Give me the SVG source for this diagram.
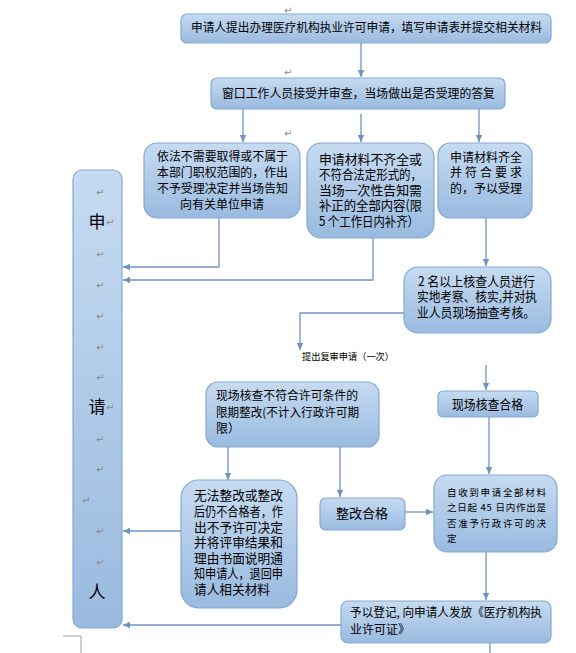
<svg xmlns="http://www.w3.org/2000/svg" width="576" height="653" viewBox="0 0 576 653">
<defs>
<linearGradient id="g" x1="0" y1="0" x2="0" y2="1">
<stop offset="0" stop-color="#c6dbf1"/>
<stop offset="1" stop-color="#99badf"/>
</linearGradient>
<marker id="ah" markerUnits="userSpaceOnUse" markerWidth="8" markerHeight="8" refX="7" refY="4" orient="auto">
<path d="M0,0.8 L7,4 L0,7.2 Z" fill="#6f93c0"/>
</marker>
<style>
.box{fill:url(#g);stroke:#84a9d3;stroke-width:1.2}
.t{font-family:"Noto Sans CJK SC","Noto Sans CJK JP",sans-serif;font-size:12px;fill:#000}
.t13{font-size:13px}
.big{font-size:17px}
.sm{font-size:9.5px}
.pm{font-family:"DejaVu Sans",sans-serif;font-size:10px;fill:#8a8a8a}
.c{fill:none;stroke:#6f93c0;stroke-width:1.3}
</style>
</defs>
<rect width="576" height="653" fill="#fff"/>

<g id="connectors">
<path class="c" d="M361,43 V77" marker-end="url(#ah)"/>
<path class="c" d="M243,109 V142" marker-end="url(#ah)"/>
<path class="c" d="M361,114 V142" marker-end="url(#ah)"/>
<path class="c" d="M479,109 V142" marker-end="url(#ah)"/>
<path class="c" d="M219,218 V267 H123" marker-end="url(#ah)"/>
<path class="c" d="M373,238 V280 H123" marker-end="url(#ah)"/>
<path class="c" d="M486,218 V266" marker-end="url(#ah)"/>
<path class="c" d="M404,313 H300 V350" marker-end="url(#ah)"/>
<path class="c" d="M486,365 V390" marker-end="url(#ah)"/>
<path class="c" d="M228,447 V480" marker-end="url(#ah)"/>
<path class="c" d="M340,447 V497" marker-end="url(#ah)"/>
<path class="c" d="M405,512 H433" marker-end="url(#ah)"/>
<path class="c" d="M489,417 V474" marker-end="url(#ah)"/>
<path class="c" d="M486,552 V600" marker-end="url(#ah)"/>
<path class="c" d="M181,531 H123" marker-end="url(#ah)"/>
<path class="c" d="M341,625 H123" marker-end="url(#ah)"/>
<path class="c" d="M490,643 V653"/>
</g>

<path d="M63,636 H81 V653" fill="none" stroke="#a0a0a0" stroke-width="1"/>

<g id="applicant">
<rect class="box" x="73" y="170" width="49" height="458" rx="9"/>
<text class="t big" x="97" y="228" text-anchor="middle">申</text>
<text class="t big" x="97" y="413" text-anchor="middle">请</text>
<text class="t big" x="97" y="598" text-anchor="middle">人</text>
<g class="pm">
<text x="96" y="196">↵</text>
<text x="106" y="226">↵</text>
<text x="96" y="258">↵</text>
<text x="96" y="289">↵</text>
<text x="96" y="320">↵</text>
<text x="96" y="351">↵</text>
<text x="96" y="381">↵</text>
<text x="106" y="411">↵</text>
<text x="96" y="443">↵</text>
<text x="96" y="473">↵</text>
<text x="82" y="504">↵</text>
<text x="96" y="535">↵</text>
<text x="96" y="566">↵</text>
</g>
</g>

<g class="pm">
<text x="284" y="14">↵</text>
<text x="284" y="76">↵</text>
<text x="284" y="137">↵</text>
</g>

<g id="n1">
<rect class="box" x="181" y="14" width="370" height="29" rx="6"/>
<text class="t" x="191" y="32" textLength="351" lengthAdjust="spacingAndGlyphs">申请人提出办理医疗机构执业许可申请，填写申请表并提交相关材料</text>
</g>

<g id="n2">
<rect class="box" x="211" y="78" width="294" height="31" rx="6"/>
<text class="t" x="222" y="98" textLength="273" lengthAdjust="spacingAndGlyphs">窗口工作人员接受并审查，当场做出是否受理的答复</text>
</g>

<g id="n3">
<rect class="box" x="144" y="143" width="156" height="75" rx="13"/>
<text class="t" x="157" y="161" textLength="131" lengthAdjust="spacingAndGlyphs">依法不需要取得或不属于</text>
<text class="t" x="157" y="177" textLength="131" lengthAdjust="spacingAndGlyphs">本部门职权范围的，作出</text>
<text class="t" x="157" y="193" textLength="131" lengthAdjust="spacingAndGlyphs">不予受理决定并当场告知</text>
<text class="t" x="222" y="209" text-anchor="middle">向有关单位申请</text>
</g>

<g id="n4">
<rect class="box" x="307" y="143" width="127" height="95" rx="14"/>
<text class="t t13" x="319" y="164" textLength="103" lengthAdjust="spacingAndGlyphs">申请材料不齐全或</text>
<text class="t t13" x="319" y="179" textLength="103" lengthAdjust="spacingAndGlyphs">不符合法定形式的，</text>
<text class="t t13" x="319" y="195" textLength="103" lengthAdjust="spacingAndGlyphs">当场一次性告知需</text>
<text class="t t13" x="319" y="210" textLength="103" lengthAdjust="spacingAndGlyphs">补正的全部内容(限</text>
<text class="t t13" x="319" y="226" textLength="100" lengthAdjust="spacingAndGlyphs">5 个工作日内补齐）</text>
</g>

<g id="n5">
<rect class="box" x="438" y="143" width="94" height="75" rx="12"/>
<text class="t" x="450" y="162" textLength="72" lengthAdjust="spacingAndGlyphs">申请材料齐全</text>
<text class="t" x="450" y="177" textLength="72" lengthAdjust="spacing">并符合要求</text>
<text class="t" x="450" y="193" textLength="72" lengthAdjust="spacingAndGlyphs">的，予以受理</text>
</g>

<g id="n6">
<rect class="box" x="404" y="267" width="147" height="66" rx="14"/>
<text class="t t13" x="418" y="286" textLength="117" lengthAdjust="spacingAndGlyphs">2 名以上核查人员进行</text>
<text class="t t13" x="417" y="301" textLength="120" lengthAdjust="spacingAndGlyphs">实地考察、核实,并对执</text>
<text class="t t13" x="417" y="317" textLength="118" lengthAdjust="spacingAndGlyphs">业人员现场抽查考核。</text>
</g>

<g id="review">
<text class="t sm" x="302" y="360" textLength="92" lengthAdjust="spacingAndGlyphs">提出复审申请（一次）</text>
</g>

<g id="n7">
<rect class="box" x="206" y="382" width="173" height="65" rx="12"/>
<text class="t" x="216" y="400" textLength="142" lengthAdjust="spacingAndGlyphs">现场核查不符合许可条件的</text>
<text class="t" x="216" y="417" textLength="143" lengthAdjust="spacingAndGlyphs">限期整改(不计入行政许可期</text>
<text class="t" x="216" y="433">限）</text>
</g>

<g id="n8">
<rect class="box" x="438" y="391" width="100" height="26" rx="5"/>
<text class="t t13" x="452" y="409" textLength="71" lengthAdjust="spacingAndGlyphs">现场核查合格</text>
</g>

<g id="n9">
<rect class="box" x="181" y="480" width="116" height="128" rx="18"/>
<text class="t t13" x="194" y="500" textLength="89" lengthAdjust="spacingAndGlyphs">无法整改或整改</text>
<text class="t t13" x="194" y="516" textLength="89" lengthAdjust="spacingAndGlyphs">后仍不合格者，作</text>
<text class="t t13" x="194" y="532" textLength="89" lengthAdjust="spacingAndGlyphs">出不予许可决定</text>
<text class="t t13" x="194" y="547" textLength="89" lengthAdjust="spacingAndGlyphs">并将评审结果和</text>
<text class="t t13" x="194" y="563" textLength="89" lengthAdjust="spacingAndGlyphs">理由书面说明通</text>
<text class="t t13" x="194" y="578" textLength="89" lengthAdjust="spacingAndGlyphs">知申请人，退回申</text>
<text class="t t13" x="194" y="594" textLength="76" lengthAdjust="spacingAndGlyphs">请人相关材料</text>
</g>

<g id="n10">
<rect class="box" x="320" y="498" width="85" height="32" rx="6"/>
<text class="t t13" x="336" y="518">整改合格</text>
</g>

<g id="n11">
<rect class="box" x="434" y="475" width="123" height="77" rx="13"/>
<text class="t sm" x="447" y="496" textLength="99" lengthAdjust="spacing">自收到申请全部材料</text>
<text class="t sm" x="447" y="511" textLength="99" lengthAdjust="spacing">之日起 45 日内作出是</text>
<text class="t sm" x="447" y="527" textLength="99" lengthAdjust="spacing">否准予行政许可的决</text>
<text class="t sm" x="447" y="542">定</text>
</g>

<g id="n12">
<rect class="box" x="341" y="601" width="210" height="42" rx="7"/>
<text class="t" x="350" y="617" textLength="192" lengthAdjust="spacingAndGlyphs">予以登记, 向申请人发放《医疗机构执</text>
<text class="t" x="350" y="634">业许可证》</text>
</g>
</svg>
